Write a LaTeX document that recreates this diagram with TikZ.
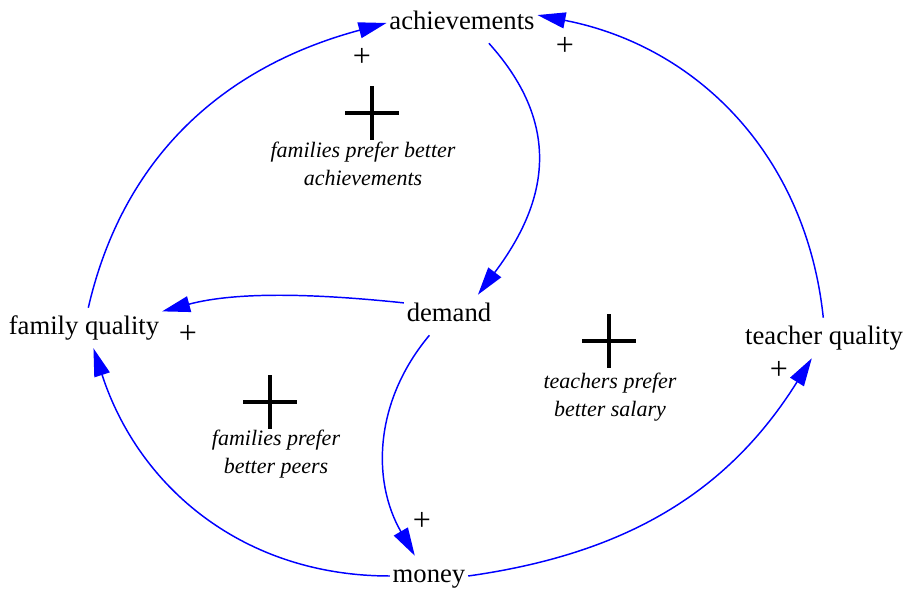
\documentclass[tikz,border=0pt]{standalone}
\usepackage{fontspec}
\setmainfont{Liberation Serif}
\usetikzlibrary{arrows.meta,positioning}

\begin{document}
\begin{tikzpicture}[x=0.75pt, y=0.75pt,
        var/.style={inner xsep=2pt, inner ysep=6pt, font=\fontsize{20}{24}\selectfont, text height=14pt, text depth=4pt},
        link/.style={-{Triangle[length=21pt,width=12pt]}, blue, line width=1.1pt},
        polarity/.style={font=\fontsize{24}{26}\selectfont},
        loopmark/.style={line width=2.5pt},
        loopname/.style={font=\fontsize{16.5}{21}\selectfont\itshape, align=center}]
        \useasboundingbox (0,0) rectangle (911,591);

        \node[var] (ach) at (462,568) {achievements};
        \node[var] (dem) at (449,276) {demand};
        \node[var] (fam) at (84,263) {family quality};
        \node[var] (tq) at (824,253) {teacher quality};
        \node[var] (mon) at (429,15) {money};

        \draw[link] (fam.78) to[out=77, in=195] (ach.west);
        \draw[link] (tq.92) to[out=96, in=-11] (ach.6);
        \draw[link] (ach.-37) to[out=-48, in=53, looseness=1.15] (dem.35);
        \draw[link] (dem.165) to[out=174, in=15, looseness=0.85] (fam.12);
        \draw[link] (dem.-134) to[out=230, in=120] (mon.125);
        \draw[link] (mon.west) to[out=180, in=-72] (fam.-65);
        \draw[link] (mon.east) to[out=8, in=238] (tq.-121);

        \node[polarity] (pa) at (362,534) {+};
        \node[polarity] (pb) at (565,545) {+};
        \node[polarity] (pc) at (188,257) {+};
        \node[polarity] (pd) at (779,221) {+};
        \node[polarity] (pe) at (422,70) {+};

        % loop markers
        \coordinate (loopA) at (372,478);
        \coordinate (loopB) at (270,189);
        \coordinate (loopC) at (609,250);
        \draw[loopmark] ([yshift=20pt]loopA) -- ([yshift=-20pt]loopA) ([xshift=-20pt]loopA) -- ([xshift=20pt]loopA);
        \draw[loopmark] ([yshift=20pt]loopB) -- ([yshift=-20pt]loopB) ([xshift=-20pt]loopB) -- ([xshift=20pt]loopB);
        \draw[loopmark] ([yshift=20pt]loopC) -- ([yshift=-20pt]loopC) ([xshift=-20pt]loopC) -- ([xshift=20pt]loopC);
        \node[loopname] (nameA) at (363,427) {families prefer better\\achievements};
        \node[loopname] (nameB) at (276,137) {families prefer\\better peers};
        \node[loopname] (nameC) at (610,194) {teachers prefer\\better salary};
\end{tikzpicture}
\end{document}
